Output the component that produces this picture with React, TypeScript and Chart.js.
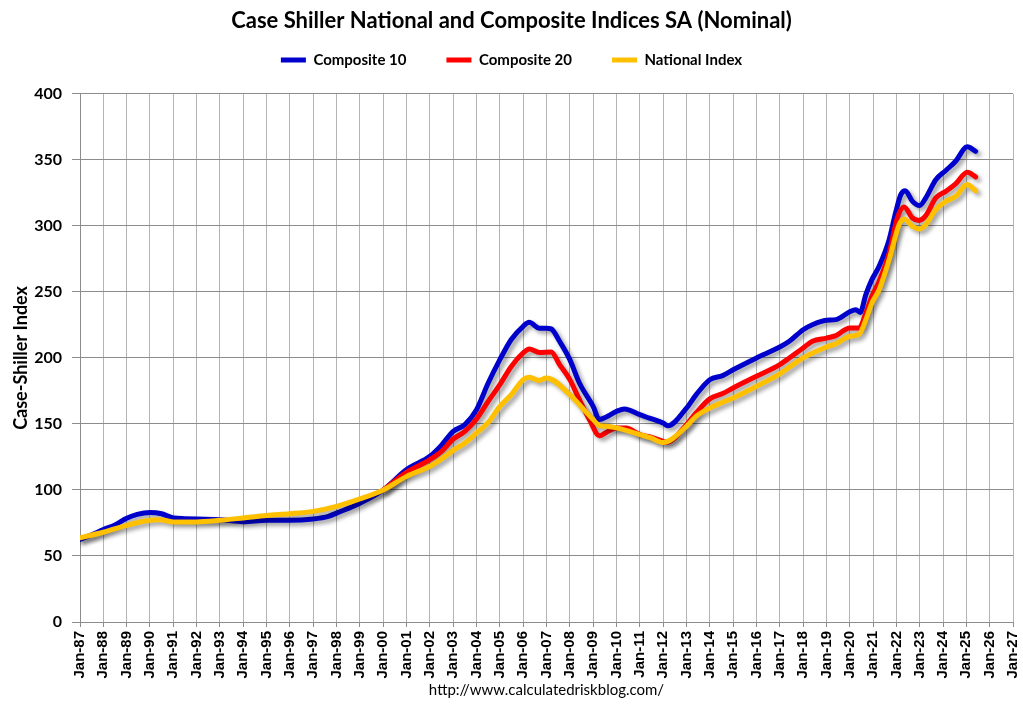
import React, { useEffect, useRef } from "react";
import { Chart, registerables } from "chart.js";

Chart.register(...registerables);

const chartTitle = "Case Shiller National and Composite Indices SA (Nominal)";
const yAxisTitle = "Case-Shiller Index";
const sourceText = "http://www.calculatedriskblog.com/";

const seriesNames = ["Composite 10", "Composite 20", "National Index"];
const seriesColors = ["#0000CC", "#FF0000", "#FFC000"];

const tickLabels = [
  "Jan-87", "Jan-88", "Jan-89", "Jan-90", "Jan-91", "Jan-92", "Jan-93", "Jan-94",
  "Jan-95", "Jan-96", "Jan-97", "Jan-98", "Jan-99", "Jan-00", "Jan-01", "Jan-02",
  "Jan-03", "Jan-04", "Jan-05", "Jan-06", "Jan-07", "Jan-08", "Jan-09", "Jan-10",
  "Jan-11", "Jan-12", "Jan-13", "Jan-14", "Jan-15", "Jan-16", "Jan-17", "Jan-18",
  "Jan-19", "Jan-20", "Jan-21", "Jan-22", "Jan-23", "Jan-24", "Jan-25", "Jan-26",
  "Jan-27",
];

const yTickValues = [0, 50, 100, 150, 200, 250, 300, 350, 400];

// Composite 10 (decimal year, index)
const c10Dates = [
  1987.0, 1987.5, 1988.0, 1988.5, 1989.0, 1989.45, 1990.0, 1990.5, 1991.0, 1991.5,
  1992.0, 1993.0, 1994.0, 1995.0, 1996.0, 1997.0, 1997.65, 1998.0, 1999.0, 2000.0,
  2001.0, 2002.0, 2002.5, 2003.0, 2003.5, 2004.0, 2004.5, 2005.0, 2005.49, 2006.0,
  2006.26, 2006.7, 2007.0, 2007.2, 2007.56, 2008.0, 2008.41, 2009.0, 2009.27, 2009.56,
  2010.0, 2010.34, 2011.0, 2011.41, 2012.0, 2012.2, 2013.0, 2013.41, 2014.0, 2014.55,
  2015.0, 2016.0, 2017.0, 2017.41, 2018.0, 2018.4, 2019.0, 2019.41, 2020.0, 2020.26,
  2020.45, 2020.69, 2020.95, 2021.26, 2021.69, 2021.98, 2022.19, 2022.38, 2022.69, 2023.0,
  2023.26, 2023.69, 2024.12, 2024.54, 2025.04, 2025.4,
];
const c10Values = [
  62.5, 66, 70, 73.5, 78.5, 81.5, 83, 82, 78.8, 78.3,
  78, 77.5, 76, 77, 77, 78, 80, 82.5, 90, 100,
  115.5, 125.5, 134, 144.4, 149.5, 160.8, 181, 198.7, 214, 224,
  227, 222.5, 222.5, 222, 212.6, 198.7, 181, 163.3, 153.3, 155.3,
  159.5, 161.4, 157, 154.5, 150.7, 148.7, 162, 172, 183.5, 186.6,
  191, 200, 208.3, 212.6, 221.4, 225.2, 228.5, 229, 235, 236.6,
  234.5, 248, 259.3, 269.4, 289.6, 311, 323.7, 326.7, 318.6, 315.4,
  321.2, 335, 342, 349, 360, 356.5,
];

// Composite 20
const c20Dates = [
  2000.0, 2001.0, 2002.0, 2002.5, 2003.0, 2003.5, 2004.0, 2004.5, 2005.0, 2005.49,
  2006.0, 2006.26, 2006.7, 2007.2, 2007.56, 2008.0, 2008.41, 2008.84, 2009.27, 2009.56,
  2010.0, 2010.41, 2011.0, 2011.48, 2012.0, 2012.15, 2013.0, 2013.41, 2014.0, 2014.55,
  2015.0, 2016.0, 2017.0, 2017.41, 2018.0, 2018.4, 2019.0, 2019.41, 2020.0, 2020.4,
  2020.69, 2020.95, 2021.26, 2021.69, 2022.04, 2022.33, 2022.69, 2022.97, 2023.26, 2023.69,
  2024.12, 2024.54, 2025.04, 2025.4,
];
const c20Values = [
  100, 113.3, 123, 129.3, 138.6, 144.4, 153.8, 167.1, 179.8, 193.6,
  203.8, 206.8, 204.2, 204.5, 195, 183.6, 168.4, 153.3, 141.1, 143.6,
  147, 147, 141.9, 140, 136.8, 136, 149.5, 158.3, 169, 173,
  177.3, 186.1, 195, 200, 207.6, 212.6, 215, 216.9, 222.7, 222.7,
  234, 246.7, 258, 279.3, 306, 314.4, 306, 304.2, 307.8, 321.2,
  326.2, 331.8, 340.6, 337.1,
];

// National Index
const natDates = [
  1987.0, 1988.0, 1989.0, 1990.0, 1990.4, 1991.0, 1992.0, 1993.0, 1994.0, 1995.0,
  1996.0, 1997.0, 1998.0, 1999.0, 2000.0, 2001.0, 2002.0, 2002.5, 2003.0, 2003.5,
  2004.0, 2004.5, 2005.0, 2005.49, 2006.0, 2006.26, 2006.67, 2007.0, 2008.0, 2008.41,
  2009.0, 2009.27, 2009.56, 2010.0, 2010.41, 2011.0, 2011.48, 2012.0, 2013.0, 2013.41,
  2014.0, 2014.55, 2015.0, 2016.0, 2017.0, 2018.0, 2019.0, 2019.41, 2020.0, 2020.4,
  2020.69, 2020.95, 2021.26, 2021.69, 2022.12, 2022.33, 2022.69, 2023.0, 2023.26, 2023.69,
  2024.12, 2024.54, 2025.04, 2025.4,
];
const natValues = [
  63.8, 68, 73.2, 77, 77.5, 75.8, 75.8, 77, 78.8, 80.7,
  82, 83.8, 87.6, 93.2, 100, 110.3, 117.9, 123.5, 130, 135.6,
  143.2, 151.2, 163.3, 172.2, 183.6, 185.3, 183, 184.8, 172.2, 164.6,
  153.3, 148.7, 148.2, 147, 145.2, 141.9, 139.4, 136, 148.2, 155.8,
  162.1, 166.5, 169.7, 178.5, 188, 200, 208.3, 210.8, 216.4, 218,
  229, 241.7, 251.7, 274.5, 301, 305.3, 299.7, 297.7, 301, 312.3,
  318.6, 322.4, 331.3, 326.7,
];

const toPoints = (xs: number[], ys: number[]) => xs.map((x, i) => ({ x, y: ys[i] }));

const shadowPlugin = {
  id: "lineShadow",
  beforeDatasetDraw(chart: any) {
    const ctx = chart.ctx;
    ctx.save();
    ctx.shadowColor = "rgba(0,0,0,0.38)";
    ctx.shadowBlur = 4;
    ctx.shadowOffsetX = 3;
    ctx.shadowOffsetY = 3;
  },
  afterDatasetDraw(chart: any) {
    chart.ctx.restore();
  },
};

export default function App() {
  const canvasRef = useRef<HTMLCanvasElement | null>(null);

  useEffect(() => {
    document.body.style.margin = "0";
    const canvas = canvasRef.current;
    if (!canvas) return;
    const seriesData = [
      toPoints(c10Dates, c10Values),
      toPoints(c20Dates, c20Values),
      toPoints(natDates, natValues),
    ];
    const chart = new Chart(canvas, {
      type: "line",
      data: {
        datasets: seriesNames.map((name, i) => ({
          label: name,
          data: seriesData[i],
          borderColor: seriesColors[i],
          backgroundColor: seriesColors[i],
          borderWidth: 5,
          pointRadius: 0,
          cubicInterpolationMode: "monotone" as const,
          borderCapStyle: "round" as const,
          borderJoinStyle: "round" as const,
          order: 2 - i,
        })),
      },
      plugins: [shadowPlugin],
      options: {
        animation: false,
        responsive: false,
        devicePixelRatio: 1,
        layout: { padding: { left: 10, right: 10, top: 0, bottom: 0 } },
        plugins: {
          title: {
            display: true,
            text: chartTitle,
            color: "#000",
            font: { family: "Lato", size: 22, weight: "bold", lineHeight: 1.2 },
            padding: { top: 8, bottom: -22 },
          },
          subtitle: {
            display: true,
            text: "",
            position: "top",
            weight: 500,
            font: { size: 10, lineHeight: 1.2 },
            padding: { top: 4.5, bottom: 0 },
          },
          legend: {
            display: true,
            position: "top",
            labels: {
              color: "#000",
              font: { family: "Lato", size: 15, weight: "bold" },
              boxWidth: 25,
              boxHeight: 5,
              padding: 40,
              useBorderRadius: true,
              borderRadius: 2.5,
              generateLabels: (c: any) =>
                c.data.datasets.map((ds: any, i: number) => ({
                  text: ds.label,
                  fillStyle: seriesColors[i],
                  strokeStyle: seriesColors[i],
                  lineWidth: 0,
                  hidden: false,
                  datasetIndex: i,
                  fontColor: "#000",
                })),
            },
          },
          tooltip: { enabled: false },
        },
        scales: {
          x: {
            type: "linear",
            min: 1987,
            max: 2027,
            afterFit: (scale: any) => {
              scale.height = 86;
              scale.paddingRight = 0;
              scale.paddingLeft = 0;
            },
            afterBuildTicks: (scale: any) => {
              scale.ticks = tickLabels.map((_, i) => ({ value: 1987 + i }));
            },
            ticks: {
              autoSkip: false,
              maxRotation: 90,
              minRotation: 90,
              padding: 4,
              color: "#000",
              font: { family: "Liberation Sans", size: 15, weight: "bold" },
              callback: (v: any) => tickLabels[Math.round(Number(v) - 1987)],
            },
            grid: { color: "#b4b4b4", lineWidth: 1, tickLength: 5, tickColor: "#8c8c8c" },
            border: { color: "#8c8c8c", width: 1 },
            title: {
              display: true,
              text: sourceText,
              color: "#000",
              font: { family: "Lato", size: 15, weight: "normal", lineHeight: 1.2 },
              padding: { top: 0, bottom: 9 },
            },
          },
          y: {
            min: 0,
            max: 400,
            afterFit: (scale: any) => {
              scale.width = 70;
            },
            afterBuildTicks: (scale: any) => {
              scale.ticks = yTickValues.map((v) => ({ value: v }));
            },
            ticks: {
              padding: 10,
              color: "#000",
              font: { family: "Lato", size: 16, weight: "bold" },
            },
            grid: { color: "#8c8c8c", lineWidth: 1, tickLength: 8, tickColor: "#8c8c8c" },
            border: { color: "#8c8c8c", width: 1 },
            title: {
              display: true,
              text: yAxisTitle,
              color: "#000",
              font: { family: "Lato", size: 18, weight: "bold", lineHeight: 1.2 },
              padding: { top: 0, bottom: 0 },
            },
          },
        },
      },
    } as any);
    return () => chart.destroy();
  }, []);

  return (
    <div style={{ position: "absolute", left: 0, top: 0, width: 1023, height: 708, background: "#fff" }}>
      <canvas ref={canvasRef} width={1023} height={708} style={{ width: 1023, height: 708 }} />
    </div>
  );
}
